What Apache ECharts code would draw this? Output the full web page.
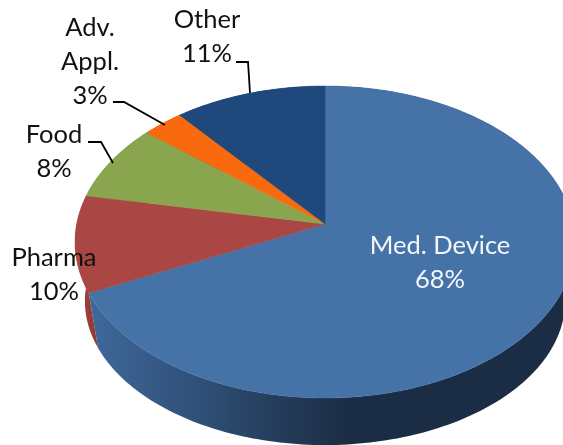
<!DOCTYPE html>
<html>
<head>
<meta charset="utf-8">
<style>
  html, body { margin: 0; padding: 0; background: #fff; }
  #main { width: 563px; height: 445px; }
</style>
<script src="https://cdn.jsdelivr.net/npm/echarts@6/dist/echarts.min.js"></script>
</head>
<body>
<div id="main"></div>
<script>
// chart data, clockwise from 12 o'clock
const categories = ["Med. Device", "Pharma", "Food", "Adv.\nAppl.", "Other"];
const shares = [68, 10, 8, 3, 11];

// styling per slice
const faceColors = ["#4572A7", "#AA4643", "#89A54E", "#F96A0E", "#1F497D"];
const textColors = ["#F4F7FB", "#111", "#111", "#111", "#111"];
const labelAt = [[440, 263], [54, 275], [54, 152], [90, 62], [207, 37]];
const leaders = [
  null,
  null,
  [[88, 142], [101, 142], [113, 163]],
  [[113, 102], [124, 102], [165, 125]],
  [[236, 62], [248, 62], [250, 93]]
];

// perspective disc: circle -> plane, top rim and base rim
const tilt = 0.1154;
const topDisc = { cx: 325, cy: 224, a: 248.3, b: 153.9 };
const baseDisc = { cx: 325, cy: 284.4, a: 238.5, b: 142.1 };

function project(disc, pct) {
  const t = pct / 100 * Math.PI * 2;
  const d = 1 + tilt * Math.cos(t);
  return [disc.cx + disc.a * Math.sin(t) / d, disc.cy - disc.b * Math.cos(t) / d];
}

function arc(disc, from, to) {
  const pts = [];
  const n = Math.max(2, Math.ceil((to - from) * 3));
  for (let i = 0; i <= n; i++) pts.push(project(disc, from + (to - from) * i / n));
  return pts;
}

// cumulative [start, end] of each slice
let acc = 0;
const ranges = shares.map(v => { const r = [acc, acc + v]; acc += v; return r; });

const wallBlue = new echarts.graphic.LinearGradient(85, 0, 345, 0, [
  { offset: 0, color: "#3F6A9C" },
  { offset: 0.45, color: "#2F4F76" },
  { offset: 1, color: "#1B2D44" }
], true);
const wallRed = new echarts.graphic.LinearGradient(76, 0, 96, 0, [
  { offset: 0, color: "#A5443F" },
  { offset: 1, color: "#8E3A37" }
], true);
const wallFill = [wallBlue, wallRed, "#6B8040", "#C2520A", "#173860"];

function renderWall(params, api) {
  const from = api.value(0), to = api.value(1);
  const pts = arc(topDisc, from, to).concat(arc(baseDisc, from, to).reverse());
  return {
    type: "polygon",
    shape: { points: pts },
    style: { fill: wallFill[params.dataIndex] }
  };
}

function renderFace(params, api) {
  const i = params.dataIndex;
  const pts = [[topDisc.cx, topDisc.cy]].concat(arc(topDisc, api.value(0), api.value(1)));
  return {
    type: "polygon",
    shape: { points: pts },
    style: { fill: faceColors[i], stroke: faceColors[i], lineWidth: 0.5 }
  };
}

function renderLabel(params, api) {
  const i = params.dataIndex;
  const children = [{
    type: "text",
    style: {
      x: labelAt[i][0],
      y: labelAt[i][1],
      text: categories[i] + "\n" + api.value(0) + "%",
      fill: textColors[i],
      font: "25.5px Lato",
      lineHeight: 34,
      align: "center",
      verticalAlign: "middle"
    }
  }];
  if (leaders[i]) {
    children.push({
      type: "polyline",
      shape: { points: leaders[i] },
      style: { fill: "none", stroke: "#000", lineWidth: 1.8 }
    });
  }
  return { type: "group", children };
}

const chart = echarts.init(document.getElementById("main"));
chart.setOption({
  animation: false,
  backgroundColor: "#fff",
  series: [
    { type: "custom", coordinateSystem: "none", silent: true, z: 1, renderItem: renderWall, data: ranges },
    { type: "custom", coordinateSystem: "none", silent: true, z: 2, renderItem: renderFace, data: ranges },
    { type: "custom", coordinateSystem: "none", silent: true, z: 3, renderItem: renderLabel, data: shares }
  ]
});
</script>
</body>
</html>
